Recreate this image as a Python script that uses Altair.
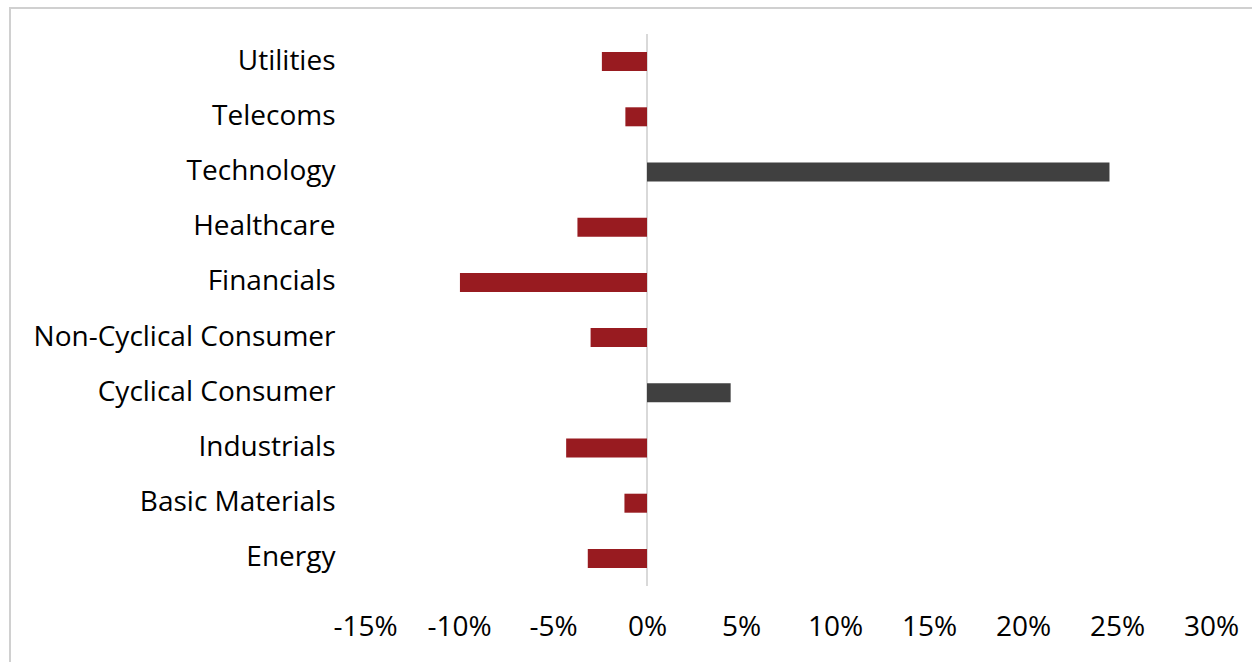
import altair as alt
import pandas as pd

sectors = ["Utilities", "Telecoms", "Technology", "Healthcare", "Financials",
           "Non-Cyclical Consumer", "Cyclical Consumer", "Industrials",
           "Basic Materials", "Energy"]
values = [-2.4, -1.15, 24.6, -3.7, -9.95, -3.0, 4.45, -4.3, -1.2, -3.15]
ticks = [-0.15, -0.10, -0.05, 0, 0.05, 0.10, 0.15, 0.20, 0.25, 0.30]

df = pd.DataFrame({"sector": sectors, "value": [v / 100 for v in values]})

FONT = "Open Sans"
FS = 28

y_enc = alt.Y("sector:N", sort=sectors,
              scale=alt.Scale(paddingInner=0.65, paddingOuter=0.325),
              axis=alt.Axis(title=None, domain=False, ticks=False,
                            labelPadding=30, labelFontSize=FS, labelFont=FONT,
                            labelLimit=500, labelColor="#000000"))
x_enc = alt.X("value:Q",
              scale=alt.Scale(domain=[-0.15, 0.30], nice=False),
              axis=alt.Axis(title=None, domain=False, ticks=False, grid=False,
                            values=ticks, labelOverlap=False, labelFlush=False,
                            labelExpr="replace(format(datum.value, '.0%'), '\u2212', '-')",
                            labelPadding=27, labelFontSize=FS, labelFont=FONT,
                            labelColor="#000000"))

border = alt.Chart(df).mark_rect(fill=None, stroke="#D0D0D0", strokeWidth=1.5).encode(
    x=alt.value(-355), x2=alt.value(1000), y=alt.value(-26), y2=alt.value(700)
)

zero = alt.Chart(df).mark_rule(color="#D9D9D9", strokeWidth=1.5).encode(
    x=alt.datum(0), y=alt.value(0), y2=alt.value(552)
)

bars = alt.Chart(df).mark_bar(size=19).encode(
    y=y_enc,
    x=x_enc,
    color=alt.condition(alt.datum.value > 0, alt.value("#404040"), alt.value("#981B20")),
)

chart = alt.layer(border, zero, bars).properties(
    width=846, height=552,
    autosize=alt.AutoSizeParams(type="none"),
    padding={"left": 365, "top": 34, "right": 41, "bottom": 76},
).configure_view(stroke=None)

chart.save("out.html", embed_options={"renderer": "svg", "actions": False})
